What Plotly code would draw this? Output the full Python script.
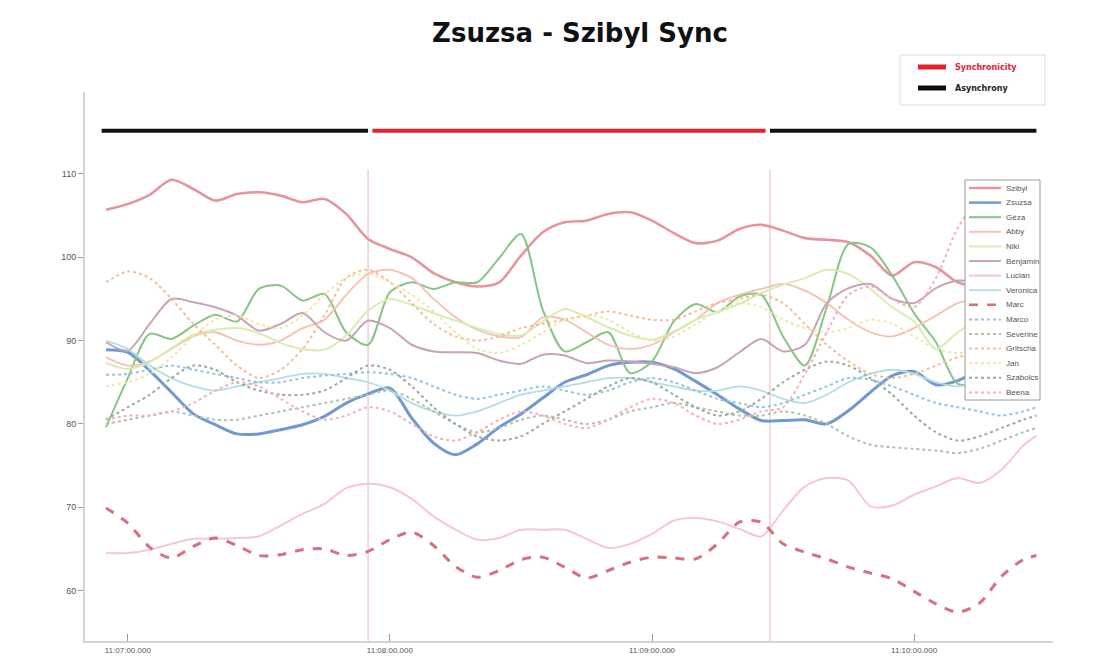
import pandas as pd
import plotly.graph_objects as go

# ---------------- data ----------------
base = pd.Timestamp("2015-01-01 11:06:55")
n_regular = 43
times = [base + pd.Timedelta(seconds=5 * i) for i in range(n_regular)] + [pd.Timestamp("2015-01-01 11:10:28")]

szibyl = [105.7, 106.4, 107.5, 109.3, 108.2, 106.8, 107.6, 107.8, 107.4, 106.6, 107.0, 105.2, 102.2, 101.0, 100.0,
          98.1, 97.0, 96.5, 97.0, 100.2, 103.0, 104.2, 104.4, 105.2, 105.4, 104.4, 102.9, 101.7, 102.0, 103.4,
          103.9, 103.2, 102.3, 102.1, 101.8, 100.2, 97.8, 99.4, 98.8, 97.0, 96.5, 96.6, 96.5, 96.4]
zsuzsa = [88.9, 88.6, 86.4, 83.8, 81.2, 79.9, 78.8, 78.8, 79.3, 79.9, 80.9, 82.5, 83.6, 84.3, 80.7,
          77.7, 76.3, 77.6, 79.6, 81.2, 83.1, 85.0, 85.9, 87.0, 87.4, 87.4, 86.6, 85.1, 83.5, 81.8,
          80.4, 80.4, 80.5, 80.0, 81.6, 83.8, 85.8, 86.3, 84.7, 85.2, 86.5, 86.8, 87.0, 87.0]
geza = [79.6, 85.5, 90.8, 90.2, 91.8, 93.1, 92.3, 96.2, 96.6, 94.8, 95.6, 91.0, 89.5, 95.8, 97.0,
        96.2, 97.0, 97.0, 99.9, 102.8, 93.7, 88.7, 89.8, 91.0, 86.1, 87.5, 92.3, 94.4, 93.4, 95.3,
        95.5, 90.5, 87.0, 94.0, 101.6, 101.2, 97.8, 93.3, 89.8, 84.8, 85.0, 86.0, 87.0, 87.5]
abby = [88.0, 87.0, 87.5, 89.0, 90.5, 91.0, 90.0, 89.5, 90.0, 91.5, 92.5, 95.5, 98.0, 98.5, 97.5,
        95.0, 92.8, 91.3, 90.5, 90.4, 92.8, 92.5, 91.0, 89.5, 89.0, 89.5, 91.0, 92.5, 94.5, 95.5,
        96.2, 96.8, 96.0, 94.5, 92.5, 91.0, 90.5, 91.5, 93.0, 94.5, 95.0, 95.5, 96.0, 96.0]
niki = [87.3, 86.6, 87.4, 89.1, 90.7, 91.3, 91.5, 90.9, 89.7, 89.0, 88.9, 90.6, 93.6, 95.0, 94.3,
        93.3, 92.4, 91.5, 90.8, 90.6, 92.3, 93.8, 92.8, 91.6, 90.6, 90.1, 91.1, 92.5, 93.4, 94.4,
        95.7, 96.7, 97.5, 98.5, 98.0, 96.2, 94.0, 92.3, 89.0, 91.0, 92.5, 93.0, 93.5, 94.0]
benjamin = [89.8, 88.8, 92.0, 95.0, 94.6, 94.0, 93.0, 91.2, 92.0, 93.3, 91.0, 90.0, 92.4, 91.5, 89.5,
            88.7, 88.6, 88.5, 87.6, 87.2, 88.3, 88.2, 87.3, 87.6, 87.5, 87.2, 86.8, 86.1, 86.8, 88.6,
            90.2, 88.7, 89.5, 94.5, 96.3, 96.8, 95.0, 94.5, 96.3, 97.2, 97.0, 96.5, 96.0, 96.0]
lucian = [64.5, 64.5, 64.9, 65.6, 66.2, 66.2, 66.3, 66.5, 67.8, 69.2, 70.4, 72.3, 72.8, 72.4, 71.0,
          68.9, 67.3, 66.1, 66.3, 67.3, 67.3, 67.3, 66.2, 65.1, 65.6, 66.8, 68.4, 68.7, 68.3, 67.4,
          66.5, 69.6, 72.5, 73.5, 73.2, 70.1, 70.2, 71.5, 72.5, 73.5, 72.9, 74.5, 77.4, 78.6]
veronica = [90.0, 89.0, 87.0, 85.5, 84.5, 84.0, 84.5, 85.0, 85.5, 86.0, 86.0, 85.5, 85.0, 84.0, 82.5,
            81.5, 81.0, 81.5, 82.5, 83.5, 84.0, 84.5, 85.0, 85.5, 85.5, 85.0, 84.5, 84.0, 84.0, 84.5,
            84.0, 83.0, 82.5, 83.5, 85.0, 86.0, 86.5, 86.0, 85.0, 84.5, 85.0, 85.5, 86.0, 86.0]
marc = [69.9, 68.1, 65.2, 63.9, 65.3, 66.3, 65.4, 64.2, 64.3, 64.9, 65.0, 64.2, 64.7, 66.1, 67.0,
        65.4, 62.9, 61.6, 62.4, 63.7, 64.0, 62.8, 61.5, 62.4, 63.4, 64.0, 63.9, 63.8, 65.6, 68.2,
        68.2, 65.6, 64.6, 63.8, 62.8, 62.1, 61.4, 59.9, 58.4, 57.4, 58.5, 61.7, 63.7, 64.2]
marco = [85.9, 86.0, 86.5, 87.0, 86.5, 86.0, 85.5, 85.0, 85.0, 85.5, 85.8, 86.0, 86.2, 86.0, 85.5,
         84.5, 83.5, 83.0, 83.5, 84.0, 84.5, 84.0, 83.5, 84.0, 85.0, 85.5, 85.0, 84.0, 83.0, 82.5,
         82.0, 82.5, 83.5, 84.5, 85.5, 85.3, 84.5, 83.5, 82.5, 82.0, 81.5, 81.0, 81.5, 82.0]
severine = [80.0, 80.5, 81.0, 81.5, 81.0, 80.5, 80.5, 81.0, 81.5, 82.0, 82.5, 83.0, 83.5, 84.0, 83.0,
            81.5, 80.0, 79.0, 79.5, 80.5, 81.0, 80.5, 80.0, 80.5, 81.5, 82.0, 82.5, 82.0, 81.5, 81.0,
            81.0, 81.5, 81.0, 80.0, 78.5, 77.5, 77.2, 77.0, 76.8, 76.5, 77.0, 78.0, 79.0, 79.5]
gritscha = [97.0, 98.3, 97.5, 95.0, 92.0, 89.5, 87.0, 85.5, 86.5, 89.0, 93.0, 97.5, 98.5, 97.0, 94.5,
            92.0, 90.5, 90.0, 90.5, 91.5, 92.0, 92.5, 93.0, 93.5, 93.0, 92.5, 92.5, 93.5, 94.5, 95.0,
            95.5, 94.5, 92.0, 89.5, 87.5, 86.0, 85.5, 86.0, 87.0, 88.0, 88.5, 89.0, 89.5, 90.0]
jan = [84.5, 85.0, 86.0, 88.0, 90.5, 92.5, 93.0, 92.0, 91.5, 93.0, 95.5, 97.5, 98.0, 97.0, 95.5,
       93.5, 91.0, 89.0, 88.5, 89.5, 91.0, 92.5, 93.0, 92.5, 91.0, 90.0, 90.5, 92.0, 93.5, 94.5,
       94.0, 92.5, 91.5, 91.0, 91.5, 92.5, 92.0, 90.5, 89.0, 88.5, 89.0, 90.0, 91.0, 91.5]
szabolcs = [80.5, 82.0, 83.5, 85.5, 87.0, 86.5, 85.0, 84.0, 83.5, 83.5, 84.0, 85.5, 87.0, 86.5, 84.5,
            82.0, 80.0, 78.5, 78.0, 78.5, 80.0, 81.5, 83.0, 84.5, 85.5, 85.0, 83.5, 82.0, 81.0, 81.5,
            83.0, 85.0, 86.5, 87.5, 87.0, 85.5, 83.5, 81.0, 79.0, 78.0, 78.5, 79.5, 80.5, 81.0]
beena = [80.5, 81.0, 81.0, 81.5, 82.5, 84.0, 85.0, 84.5, 83.0, 81.5, 80.5, 81.0, 82.0, 81.5, 80.0,
         78.5, 78.0, 79.0, 80.5, 81.5, 81.0, 80.0, 79.5, 80.5, 82.0, 83.0, 82.5, 81.0, 80.0, 80.5,
         81.5, 82.0, 86.0, 91.0, 95.5, 96.5, 95.0, 94.0, 97.5, 103.5, 107.0, 108.0, 108.5, 108.7]

series_names = ["Szibyl", "Zsuzsa", "Géza", "Abby", "Niki", "Benjamin", "Lucian", "Veronica",
                "Marc", "Marco", "Severine", "Gritscha", "Jan", "Szabolcs", "Beena"]
series_values = [szibyl, zsuzsa, geza, abby, niki, benjamin, lucian, veronica,
                 marc, marco, severine, gritscha, jan, szabolcs, beena]

# sync phases: (state, start, end)
sync_phases = [("Asynchrony", "11:06:54", "11:07:55"),
               ("Synchronicity", "11:07:56", "11:09:26"),
               ("Asynchrony", "11:09:27", "11:10:28")]
sync_states = ["Synchronicity", "Asynchrony"]
sync_level = 115.2
boundary_times = ["11:07:55", "11:09:27"]
boundary_top = 110.5

x_tick_labels = ["11:07:00", "11:08:00", "11:09:00", "11:10:00"]
y_ticks = [60, 70, 80, 90, 100, 110]

# ---------------- styles ----------------
styles = {
    "Szibyl":   dict(color="#e8949e", width=2.6, dash="solid"),
    "Zsuzsa":   dict(color="#7099cf", width=3.0, dash="solid"),
    "Géza":     dict(color="#86c586", width=2.0, dash="solid"),
    "Abby":     dict(color="#f6bfae", width=1.8, dash="solid"),
    "Niki":     dict(color="#d9ecb4", width=2.0, dash="solid"),
    "Benjamin": dict(color="#c8a3b5", width=2.0, dash="solid"),
    "Lucian":   dict(color="#f7c6d6", width=2.0, dash="solid"),
    "Veronica": dict(color="#b3dde6", width=1.8, dash="solid"),
    "Marc":     dict(color="#d8707f", width=3.0, dash="dash"),
    "Marco":    dict(color="#93c2e2", width=2.0, dash="dot"),
    "Severine": dict(color="#adc4a4", width=2.0, dash="dot"),
    "Gritscha": dict(color="#f5bd93", width=2.0, dash="dot"),
    "Jan":      dict(color="#efe7a8", width=2.0, dash="dot"),
    "Szabolcs": dict(color="#98ac98", width=2.0, dash="dot"),
    "Beena":    dict(color="#f3b0bd", width=2.0, dash="dot"),
}
sync_colors = {"Synchronicity": "#e8212e", "Asynchrony": "#111111"}

# layout geometry (pixels)
W, H = 1095, 670
L, R, T, B = 85, 42, 92, 29
PW, PH = W - L - R, H - T - B


def px(x):
    return (x - L) / PW


def py(y):
    return (H - B - y) / PH


day = "2015-01-01 "
fig = go.Figure()

# boundary lines
for bt in boundary_times:
    fig.add_trace(go.Scatter(x=[day + bt, day + bt], y=[40, boundary_top], mode="lines",
                             line=dict(color="#eab3ba", width=1), showlegend=False, hoverinfo="skip"))

for name, vals in zip(series_names, series_values):
    st = styles[name]
    fig.add_trace(go.Scatter(x=times, y=vals, mode="lines", name=name, showlegend=False,
                             line=dict(color=st["color"], width=st["width"], dash=st["dash"],
                                       shape="spline", smoothing=0.8)))

# sync bars
for state, t0, t1 in sync_phases:
    fig.add_trace(go.Scatter(x=[day + t0, day + t1], y=[sync_level, sync_level], mode="lines",
                             line=dict(color=sync_colors[state], width=4), name=state,
                             showlegend=False, hoverinfo="skip"))

shapes = []
annotations = []

# ---- legend for sync states (top right) ----
lx0, lx1, ly0, ly1 = 900, 1045, 55, 105
shapes.append(dict(type="rect", xref="paper", yref="paper", x0=px(lx0), x1=px(lx1), y0=py(ly0), y1=py(ly1),
                   fillcolor="white", line=dict(color="#dddddd", width=1), layer="above"))
for i, state in enumerate(sync_states):
    yc = 67 + 21 * i
    shapes.append(dict(type="line", xref="paper", yref="paper", x0=px(918), x1=px(946), y0=py(yc), y1=py(yc),
                       line=dict(color=sync_colors[state], width=5), layer="above"))
    annotations.append(dict(text="<b>%s</b>" % state, x=px(953), y=py(yc), xref="paper", yref="paper",
                            xanchor="left", yanchor="middle", showarrow=False,
                            font=dict(family="DejaVu Sans", size=8,
                                      color=sync_colors[state] if state == "Synchronicity" else "#222222")))

# ---- legend for series (inside plot, right) ----
bx0, bx1, by0, by1 = 965, 1040, 180, 400
shapes.append(dict(type="rect", xref="paper", yref="paper", x0=px(bx0), x1=px(bx1), y0=py(by0), y1=py(by1),
                   fillcolor="white", line=dict(color="#9a9a9a", width=1), layer="above"))
for i, name in enumerate(series_names):
    st = styles[name]
    yc = 188 + 14.6 * i
    shapes.append(dict(type="line", xref="paper", yref="paper", x0=px(969), x1=px(1001), y0=py(yc), y1=py(yc),
                       line=dict(color=st["color"], width=min(st["width"], 2.5), dash=st["dash"]),
                       layer="above"))
    annotations.append(dict(text=name, x=px(1004), y=py(yc), xref="paper", yref="paper",
                            xanchor="left", yanchor="middle", showarrow=False,
                            font=dict(family="Liberation Sans Narrow, Liberation Sans", size=8, color="#555555")))

fig.update_layout(
    width=W, height=H,
    paper_bgcolor="white", plot_bgcolor="white",
    margin=dict(l=L, r=R, t=T, b=B),
    title=dict(text="<b>Zsuzsa - Szibyl Sync</b>", x=(580 - L) / PW, xref="paper", y=1 - 33 / H,
               yref="container", xanchor="center", yanchor="middle",
               font=dict(family="DejaVu Sans", size=26, color="#111111")),
    xaxis=dict(type="date", range=[day + "11:06:50.2", day + "11:10:31.8"],
               tickvals=[day + t for t in x_tick_labels], tickformat="%H:%M:%S.%L",
               showgrid=False, zeroline=False, showline=True, linecolor="#d4d4d4", linewidth=2,
               ticks="inside", ticklen=7, tickcolor="#999999", tickwidth=1,
               tickfont=dict(family="Liberation Sans Narrow, Liberation Sans", size=8, color="#555555")),
    yaxis=dict(range=[53.94, 119.84], tickvals=y_ticks, showgrid=False, zeroline=False,
               showline=True, linecolor="#d4d4d4", linewidth=2,
               ticks="outside", ticklen=5, tickcolor="#999999", tickwidth=1,
               tickfont=dict(family="Liberation Sans Narrow, Liberation Sans", size=9, color="#555555")),
    shapes=shapes,
    annotations=annotations,
    showlegend=False,
)

fig.write_html("out.html", config={"displayModeBar": False})

# remove default page margin so the figure sits at the window origin
with open("out.html", "r", encoding="utf-8") as f:
    html = f.read()
html = html.replace("<body>", '<body style="margin:0">', 1)
with open("out.html", "w", encoding="utf-8") as f:
    f.write(html)
